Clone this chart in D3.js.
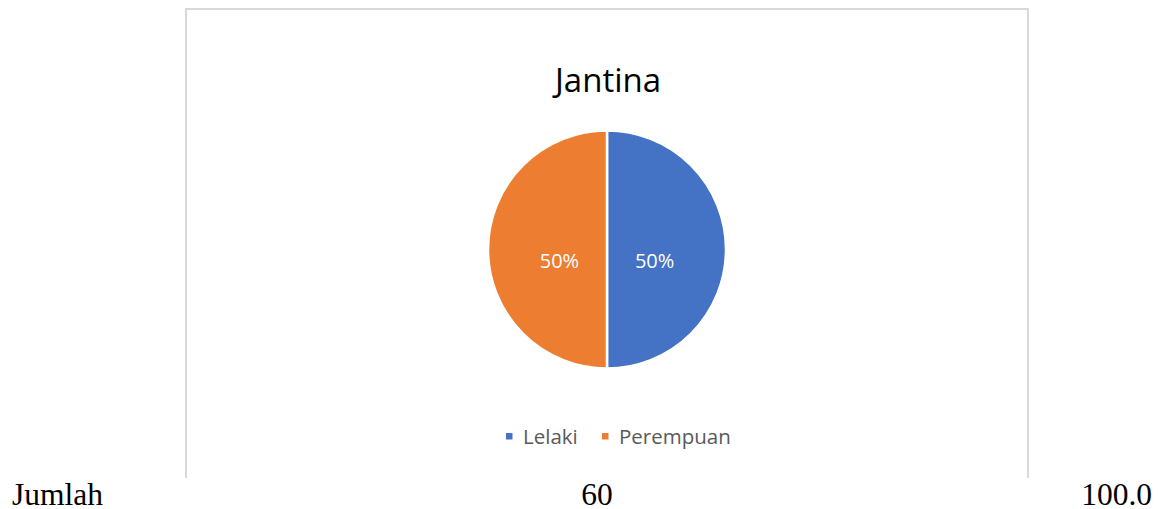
<!DOCTYPE html>
<html><head><meta charset="utf-8">
<script src="https://cdn.jsdelivr.net/npm/d3@7"></script>
<style>html,body{margin:0;padding:0;background:#fff;overflow:hidden}</style>
</head><body>
<svg id="c" width="1158" height="509"></svg>
<script>
const title = "Jantina";
const categories = ["Lelaki", "Perempuan"];
const values = [50, 50];
const colors = ["#4472C4", "#ED7D31"];
const footer = ["Jumlah", "60", "100.0"];

const svg = d3.select("#c");
// chart frame (bottom edge hidden below the table row)
svg.append("rect").attr("x",186).attr("y",9).attr("width",842).attr("height",469).attr("fill","#fff");
svg.append("path").attr("d","M186,478V9H1028V478").attr("fill","none")
  .attr("stroke","#d9d9d9").attr("stroke-width",2);

svg.append("text").attr("x",608).attr("y",92).attr("text-anchor","middle")
  .attr("font-family","Open Sans").attr("font-size",33).attr("fill","#000").text(title);

const cx = 607, cy = 249.5, r = 119;
const total = d3.sum(values);
const pie = d3.pie().sort(null).startAngle(0).endAngle(2*Math.PI);
const arcs = pie(values);
const arc = d3.arc().innerRadius(0).outerRadius(r);
const labelArc = d3.arc().innerRadius(r*0.4).outerRadius(r*0.4);
const g = svg.append("g").attr("transform",`translate(${cx},${cy})`);
g.selectAll("path").data(arcs).join("path").attr("d",arc)
  .attr("fill",(d,i)=>colors[i]).attr("stroke","#fff").attr("stroke-width",2.5);
g.selectAll("text").data(arcs).join("text")
  .attr("x",d=>labelArc.centroid(d)[0]).attr("y",d=>labelArc.centroid(d)[1]+18)
  .attr("text-anchor","middle").attr("font-family","Open Sans").attr("font-size",20)
  .attr("fill","#fff").text(d=>Math.round(d.data/total*100)+"%");

// legend
const legendX = [506, 602];
const lg = svg.append("g");
categories.forEach((c,i)=>{
  lg.append("rect").attr("x",legendX[i]).attr("y",433).attr("width",6.5).attr("height",6.5).attr("fill",colors[i]);
  lg.append("text").attr("x",legendX[i]+17).attr("y",444).attr("font-family","Open Sans")
    .attr("font-size",20.5).attr("fill","#595959").text(c);
});

// footer text (table row below)
const ff = "Liberation Serif";
svg.append("text").attr("x",12).attr("y",505).attr("font-family",ff).attr("font-size",31.5).text(footer[0]);
svg.append("text").attr("x",597).attr("y",505).attr("text-anchor","middle").attr("font-family",ff).attr("font-size",31.5).text(footer[1]);
svg.append("text").attr("x",1152).attr("y",505).attr("text-anchor","end").attr("font-family",ff).attr("font-size",31.5).text(footer[2]);
</script>
</body></html>
